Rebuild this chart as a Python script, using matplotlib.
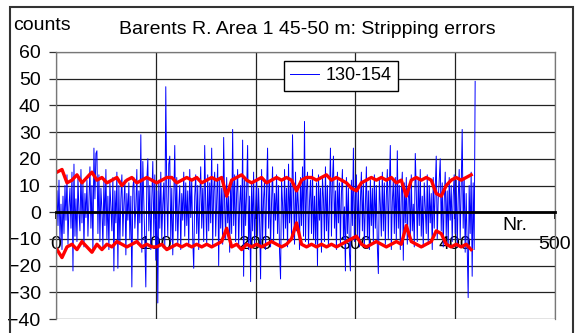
import numpy as np
import matplotlib.pyplot as plt
from matplotlib.patches import Rectangle

plt.rcParams['font.family'] = ['Liberation Sans', 'DejaVu Sans']

# stripping errors, channel 130-154 (one value per spectrum Nr.)
errors = [
    8, -5, 12, -10, 3, -14, 6, -8, 10, -3, 14, -12, 2, 9, -6, 15, -22, 18, -9, 5,
    -11, 13, 0, -7, 16, -4, 11, -13, 7, -2, 12, -9, 4, 17, -6, 10, -15, 24, 5, 22,
    23, -8, 14, -11, 9, 1, -13, 12, -5, 16, -10, 6, -14, 11, 2, -7, 13, -22, 8, -4,
    15, -21, 10, -12, 5, 14, -9, 3, 12, -16, 7, -3, 11, -10, 6, -28, 9, 13, -6, 2,
    16, -12, 8, -4, 29, -15, 19, 4, -11, -28, 12, 20, -7, 10, -14, 5, 19, -9, 14, -18,
    8, -34, 12, -6, 15, -10, 3, 11, -13, 47, 6, -9, 18, 21, -11, 9, -16, 4, 25, -7,
    13, -12, 2, 10, -14, 7, -3, 15, -9, 11, -5, 8, -13, 16, -2, 12, -10, -21, 6, 14,
    -8, 10, -14, 4, 17, -6, 9, -11, 25, 3, -12, 14, -7, 11, -4, 24, -13, 8, 15, -9,
    5, 18, -20, 12, -6, 9, -12, 28, 2, -10, 13, -4, 6, -15, 11, -8, 31, -5, 14, -11,
    7, 16, -13, 3, 10, -9, 27, -24, 12, -5, 8, 25, -14, 6, -26, 11, -7, 15, -12, 2,
    13, -9, 9, -4, -25, 16, -10, 5, 12, -14, 8, 24, -6, 11, -13, 4, 17, -11, 7, -3,
    14, -8, 10, -15, -25, 12, 3, -10, 16, -6, 9, -13, 18, -4, 11, -9, 29, 6, -12, 15,
    -7, 10, 2, -14, 13, -5, 17, -9, 34, -11, 8, 15, -13, 4, 12, -8, 16, -10, 6, -12,
    11, -20, 14, -3, 9, -15, 13, 5, -11, 17, -7, 10, -13, 3, 24, -9, 12, 21, -6, 8,
    -14, 15, -4, 11, -12, 7, 16, -10, 2, -22, 13, -8, 9, -15, -22, 12, -5, 24, -11, 6,
    14, -9, 10, -13, 4, 15, -7, 11, -12, 3, 17, -10, 8, -14, 12, -5, 9, -11, 14, -6,
    10, -13, -23, 12, 3, -9, 15, -7, 11, -12, 6, 16, -10, 9, 25, -14, 4, 12, -8, 13,
    -11, 23, -6, 10, -14, 7, 15, -18, 11, -4, 13, -12, 5, 9, -10, 14, -7, 3, -13, 22,
    8, -11, 12, -5, 16, -9, 6, -13, 11, 2, -8, 14, -12, 10, -4, 7, -14, 13, -6, 9,
    21, -10, 5, 12, 20, -7, 11, -13, 4, 15, -9, 8, -12, 13, -3, 10, -11, 6, 14, -8,
    12, -13, 5, 16, -10, 9, 31, -6, 13, -15, 7, -12, -32, 10, -8, 15, -24, 11, -14, 49,
]

# error limits (red), read every 5th Nr.
upper = [
    15, 16, 11, 12, 14, 11, 13, 15, 12, 13,
    11, 12, 13, 10, 12, 13, 11, 12, 13, 12,
    11, 12, 13, 13, 11, 12, 13, 12, 13, 11,
    12, 13, 12, 13, 6, 12, 13, 14, 12, 11,
    12, 13, 11, 12, 13, 12, 13, 12, 8, 12,
    13, 13, 12, 13, 14, 12, 13, 12, 11, 9,
    8, 11, 12, 13, 12, 13, 12, 13, 11, 12,
    6, 12, 13, 12, 13, 12, 7, 6, 10, 12,
    13, 12, 13, 14,
]
lower = [
    -14, -17, -13, -12, -14, -11, -13, -15, -12, -14,
    -12, -13, -11, -12, -13, -12, -11, -13, -12, -13,
    -13, -12, -14, -13, -12, -13, -12, -13, -12, -13,
    -12, -13, -12, -11, -6, -13, -12, -14, -12, -13,
    -12, -13, -12, -11, -12, -13, -12, -10, -4, -12,
    -13, -12, -13, -12, -13, -12, -13, -12, -11, -10,
    -9, -12, -13, -12, -11, -12, -13, -12, -11, -12,
    -5, -11, -12, -13, -12, -11, -7, -8, -12, -13,
    -12, -13, -12, -14,
]

nr = np.arange(1, len(errors) + 1)
nr_lim = np.arange(len(upper)) * 5 + 1

fig = plt.figure(figsize=(5.75, 3.33), dpi=100)
ax = fig.add_axes([56 / 575, 14 / 333, 499 / 575, 267 / 333])

ax.plot(nr, errors, color='#0000ff', lw=0.7, label='130-154')
ax.plot(nr_lim, upper, color='#ff0000', lw=2.4)
ax.plot(nr_lim, lower, color='#ff0000', lw=2.4)

ax.set_xlim(0, 500)
ax.set_ylim(-40, 60)
ax.set_xticks(range(0, 501, 100))
ax.set_yticks(range(-40, 61, 10))
ax.set_axisbelow(True)
ax.grid(True, color='#222222', lw=0.9)

for s in ['top', 'right', 'left']:
    ax.spines[s].set_color('#777777')
    ax.spines[s].set_linewidth(0.9)
ax.spines['bottom'].set_position(('data', 0))
ax.spines['bottom'].set_linewidth(2)
ax.spines['bottom'].set_color('black')

ax.tick_params(axis='y', labelsize=14, length=5, width=0.9, pad=6, color='#333333')
ax.tick_params(axis='x', labelsize=14, length=5, width=1.2, pad=12, direction='out')

ax.legend(loc='upper left', bbox_to_anchor=(0.457, 0.966), fontsize=13,
          frameon=True, fancybox=False, edgecolor='black', framealpha=1,
          borderpad=0.35, handlelength=1.6, handletextpad=0.35, borderaxespad=0)

fig.text(307 / 575, 1 - 30 / 333, 'Barents R. Area 1 45-50 m: Stripping errors',
         ha='center', va='center', fontsize=14)
fig.text(13 / 575, 1 - 25 / 333, 'counts', ha='left', va='center', fontsize=14)
ax.text(460, -5, 'Nr.', ha='center', va='center', fontsize=14)

fig.patches.append(Rectangle((10 / 575, -0.02), 563 / 575, 1.02 - 7 / 333,
                             transform=fig.transFigure, fill=False,
                             edgecolor='#333333', lw=1.5))

fig.savefig('out.png', dpi=100)
